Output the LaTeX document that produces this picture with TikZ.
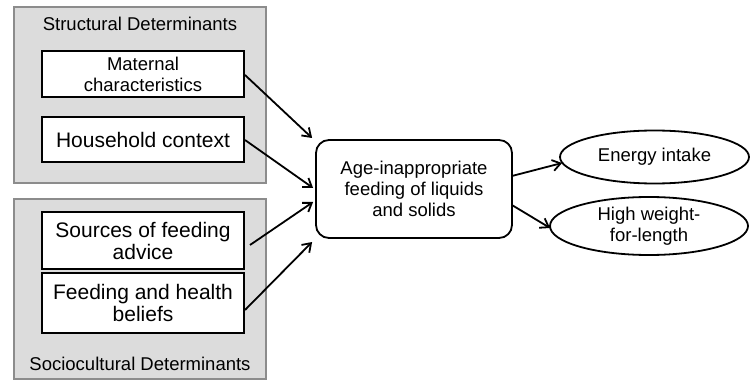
\documentclass[tikz,border=0pt]{standalone}
\usepackage{fontspec}
\setmainfont{Liberation Sans}
\usetikzlibrary{arrows.meta,shapes.geometric,calc}
\definecolor{grpfill}{HTML}{DCDCDC}
\definecolor{grpdraw}{HTML}{8C8C8C}
\tikzset{
  grp/.style={draw=grpdraw, fill=grpfill, line width=1.1pt, inner sep=0pt},
  inbox/.style={draw=black, fill=white, line width=2pt, align=center, inner sep=0pt},
  ctrbox/.style={draw=black, fill=white, line width=1.8pt, rounded corners=13pt, align=center, inner sep=0pt},
  outell/.style={ellipse, draw=black, fill=white, line width=1.8pt, align=center, inner sep=0pt},
  fs/.style={font=\fontsize{18.5}{21}\selectfont},
  fl/.style={font=\fontsize{21}{22}\selectfont},
  arr/.style={-{Straight Barb[length=8pt,width=11pt,line width=1.8pt]}, line width=1.8pt},
}
\begin{document}
\begin{tikzpicture}[x=1pt,y=-1pt]
\useasboundingbox (0,0) rectangle (752,382);
% groups
\node[grp, minimum width=252pt, minimum height=176pt] (sgrp) at (140,95) {};
\node[grp, minimum width=252pt, minimum height=180pt] (cgrp) at (140,289) {};
\node[fs] (stitle) at (140,24) {Structural Determinants};
\node[fs] (ctitle) at (140,364) {Sociocultural Determinants};
% inner boxes
\node[inbox, fs, minimum width=202pt, minimum height=46pt] (mat) at (143,74) {Maternal\\characteristics};
\node[inbox, fl, minimum width=202pt, minimum height=45pt] (hh) at (143,139.5) {Household context};
\node[inbox, fl, minimum width=202pt, minimum height=56pt] (src) at (143,240.5) {Sources of feeding\\advice};
\node[inbox, fl, minimum width=202pt, minimum height=60pt] (fhb) at (143,303) {Feeding and health\\beliefs};
% central
\node[ctrbox, fs, minimum width=196pt, minimum height=98pt] (ctr) at (414,189) {Age-inappropriate\\feeding of liquids\\and solids};
% outcomes
\node[outell, fs, minimum width=189pt, minimum height=53pt] (en) at (654.5,157) {Energy intake};
\node[outell, fs, minimum width=198pt, minimum height=58pt] (hw) at (649,226) {High weight-\\for-length};
% arrows
\draw[arr] ($(mat.east)+(0,1)$) -- ($(ctr.west)+(-3,-51)$);
\draw[arr] ($(hh.east)+(0,0.5)$) -- ($(ctr.west)+(-2,-1)$);
\draw[arr] ($(src.east)+(5,4.5)$) -- ($(ctr.west)+(-2,13)$);
\draw[arr] ($(fhb.east)+(0,7)$) -- ($(ctr.west)+(-3,53)$);
\draw[arr] ($(ctr.east)+(-1,-13)$) -- ($(en.west)+(3,6)$);
\draw[arr] ($(ctr.east)+(-1,16)$) -- ($(hw.west)+(1,2)$);
\end{tikzpicture}
\end{document}
